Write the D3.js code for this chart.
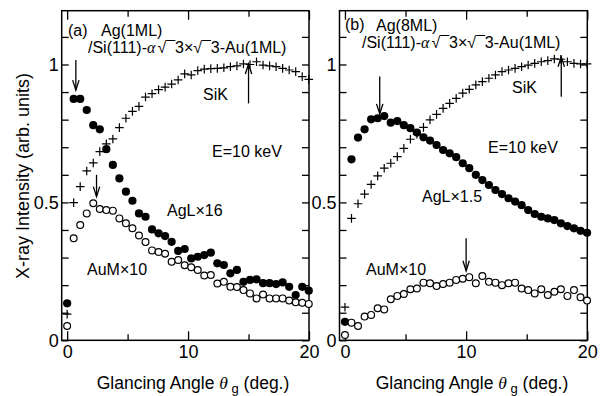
<!DOCTYPE html>
<html>
<head>
<meta charset="utf-8">
<script src="https://cdn.jsdelivr.net/npm/d3@7/dist/d3.min.js"></script>
<style>
  body { margin: 0; background: #fff; }
  svg { display: block; font-family: "Liberation Sans", Arial, sans-serif; }
</style>
</head>
<body>
<div id="chart"></div>
<script>
// glancing angles (deg.) shared by every series
const angles = [0, 0.54, 1.08, 1.62, 2.16, 2.7, 3.24, 3.78, 4.32, 4.86, 5.4, 5.94, 6.48, 7.02, 7.56,
  8.1, 8.64, 9.18, 9.72, 10.26, 10.8, 11.34, 11.88, 12.42, 12.96, 13.5, 14.04, 14.58, 15.12, 15.66,
  16.2, 16.74, 17.28, 17.82, 18.36, 18.9, 19.44, 19.98];

// (a) Ag(1ML)
const sikA = [0.095, 0.499, 0.557, 0.614, 0.643, 0.684, 0.712, 0.73, 0.771, 0.805, 0.83, 0.848, 0.882,
  0.894, 0.909, 0.918, 0.929, 0.944, 0.966, 0.962, 0.978, 0.983, 0.985, 0.986, 0.988, 0.992, 0.995,
  1.002, 1.0, 1.01, 0.998, 0.995, 0.992, 0.986, 0.98, 0.974, 0.956, 0.946];
const aglA = [0.134, 0.875, 0.875, 0.835, 0.78, 0.765, 0.693, 0.636, 0.587, 0.539, 0.506, 0.46, 0.448,
  0.402, 0.388, 0.378, 0.357, 0.324, 0.331, 0.297, 0.303, 0.309, 0.318, 0.279, 0.273, 0.243, 0.255,
  0.212, 0.219, 0.221, 0.207, 0.207, 0.204, 0.21, 0.194, 0.164, 0.194, 0.18];
const aumA = [0.052, 0.37, 0.418, 0.46, 0.497, 0.476, 0.472, 0.47, 0.442, 0.424, 0.406, 0.38, 0.356,
  0.326, 0.32, 0.314, 0.285, 0.291, 0.272, 0.265, 0.255, 0.235, 0.237, 0.206, 0.212, 0.194, 0.193,
  0.182, 0.17, 0.152, 0.166, 0.152, 0.152, 0.152, 0.144, 0.138, 0.136, 0.132];

// (b) Ag(8ML)
const sikB = [0.12, 0.442, 0.495, 0.53, 0.565, 0.596, 0.624, 0.642, 0.666, 0.696, 0.729, 0.747, 0.772,
  0.799, 0.819, 0.841, 0.859, 0.877, 0.896, 0.91, 0.926, 0.938, 0.95, 0.962, 0.974, 0.98, 0.986,
  0.992, 0.998, 1.004, 1.01, 1.014, 1.02, 1.019, 1.01, 1.004, 1.002, 1.002];
const aglB = [0.067, 0.656, 0.735, 0.765, 0.801, 0.805, 0.813, 0.789, 0.795, 0.78, 0.769, 0.753, 0.736,
  0.724, 0.708, 0.69, 0.678, 0.664, 0.642, 0.624, 0.6, 0.581, 0.563, 0.545, 0.53, 0.515, 0.503,
  0.49, 0.472, 0.458, 0.448, 0.442, 0.436, 0.424, 0.414, 0.406, 0.397, 0.39];
const aumB = [0.019, 0.064, 0.052, 0.086, 0.092, 0.116, 0.112, 0.149, 0.161, 0.168, 0.185, 0.188, 0.209,
  0.207, 0.197, 0.204, 0.209, 0.219, 0.223, 0.229, 0.207, 0.233, 0.212, 0.209, 0.2, 0.207, 0.209,
  0.188, 0.182, 0.17, 0.185, 0.164, 0.176, 0.185, 0.161, 0.182, 0.156, 0.144];

const xMajor = [0, 10, 20];
const xMinor = [5, 15];
const yMajor = [0, 0.5, 1];
const yMinor = [0.1, 0.2, 0.3, 0.4, 0.6, 0.7, 0.8, 0.9, 1.1];

const panels = [
  {
    left: 61.7, right: 309, sik: sikA, agl: aglA, aum: aumA,
    tag: '(a)', tagPos: [68, 36], film: 'Ag(1ML)', filmPos: [101, 36], subPos: [88, 53],
    arrows: [{x: 0.72, from: 1.016, to: 0.907}, {x: 2.43, from: 0.6, to: 0.521}, {x: 15, from: 0.859, to: 1.002}],
    labels: [
      {t: 'SiK', x: 203, y: 100}, {t: 'E=10 keV', x: 212, y: 157},
      {t: 'AgL×16', x: 167, y: 216}, {t: 'AuM×10', x: 87, y: 275}
    ],
    titleX: 193
  },
  {
    left: 339.5, right: 587.3, sik: sikB, agl: aglB, aum: aumB,
    tag: '(b)', tagPos: [345, 30], film: 'Ag(8ML)', filmPos: [376, 31], subPos: [362, 48],
    arrows: [{x: 2.87, from: 0.956, to: 0.821}, {x: 17.85, from: 0.883, to: 1.028}, {x: 10, from: 0.37, to: 0.252}],
    labels: [
      {t: 'SiK', x: 512, y: 93}, {t: 'E=10 keV', x: 488, y: 153},
      {t: 'AgL×1.5', x: 422, y: 202}, {t: 'AuM×10', x: 366, y: 275}
    ],
    titleX: 472
  }
];

const svg = d3.select('#chart').append('svg')
  .attr('width', 600)
  .attr('height', 396);

const y = d3.scaleLinear().domain([0, 1.195]).range([340.3, 10.7]);

// style axis selections: hide domain, set tick strokes and fonts
function styleAxis(sel, fontSize) {
  sel.select('.domain').remove();
  sel.selectAll('.tick line').attr('stroke', '#000').attr('stroke-width', 1.3);
  sel.selectAll('.tick text')
    .attr('fill', '#000')
    .style('font-family', '"Liberation Sans", Arial, sans-serif')
    .style('font-size', fontSize + 'px');
}

panels.forEach(p => {
  const x = d3.scaleLinear().domain([-0.45, 20]).range([p.left, p.right]);
  const g = svg.append('g');

  // ticks, all pointing inward
  g.append('g').attr('transform', `translate(0,${y(0)})`)
    .call(d3.axisBottom(x).tickValues(xMajor).tickSizeInner(-9).tickSizeOuter(0).tickPadding(5).tickFormat(d => String(d)))
    .call(s => styleAxis(s, 18));
  g.append('g').attr('transform', `translate(0,${y(0)})`)
    .call(d3.axisBottom(x).tickValues(xMinor).tickSizeInner(-6).tickSizeOuter(0).tickFormat(''))
    .call(s => styleAxis(s, 18));
  g.append('g').attr('transform', `translate(0,${y(1.195)})`)
    .call(d3.axisTop(x).tickValues(xMajor).tickSizeInner(-9).tickSizeOuter(0).tickFormat(''))
    .call(s => styleAxis(s, 18));
  g.append('g').attr('transform', `translate(0,${y(1.195)})`)
    .call(d3.axisTop(x).tickValues(xMinor).tickSizeInner(-6).tickSizeOuter(0).tickFormat(''))
    .call(s => styleAxis(s, 18));

  g.append('g').attr('transform', `translate(${p.left},0)`)
    .call(d3.axisLeft(y).tickValues(yMajor).tickSizeInner(-7).tickSizeOuter(0).tickPadding(3).tickFormat(d => String(d)))
    .call(s => styleAxis(s, 18));
  g.append('g').attr('transform', `translate(${p.left},0)`)
    .call(d3.axisLeft(y).tickValues(yMinor).tickSizeInner(-7).tickSizeOuter(0).tickFormat(''))
    .call(s => styleAxis(s, 18));
  g.append('g').attr('transform', `translate(${p.right},0)`)
    .call(d3.axisRight(y).tickValues(yMajor.concat(yMinor)).tickSizeInner(-7).tickSizeOuter(0).tickFormat(''))
    .call(s => styleAxis(s, 18));

  // frame
  g.append('rect')
    .attr('x', p.left).attr('y', y(1.195))
    .attr('width', p.right - p.left).attr('height', y(0) - y(1.195))
    .attr('fill', 'none').attr('stroke', '#000').attr('stroke-width', 1.5);

  // SiK: plus marks
  g.selectAll('path.sik')
    .data(angles.map((a, i) => [a, p.sik[i]]))
    .join('path')
    .attr('class', 'sik')
    .attr('d', 'M-4.3,0H4.3M0,-4.3V4.3')
    .attr('transform', d => `translate(${x(d[0])},${y(d[1])})`)
    .attr('stroke', '#000').attr('stroke-width', 1.2).attr('fill', 'none');

  // AgL: filled circles
  g.selectAll('circle.agl')
    .data(angles.map((a, i) => [a, p.agl[i]]))
    .join('circle')
    .attr('class', 'agl')
    .attr('cx', d => x(d[0])).attr('cy', d => y(d[1]))
    .attr('r', 4.1).attr('fill', '#000');

  // AuM: open circles
  g.selectAll('circle.aum')
    .data(angles.map((a, i) => [a, p.aum[i]]))
    .join('circle')
    .attr('class', 'aum')
    .attr('cx', d => x(d[0])).attr('cy', d => y(d[1]))
    .attr('r', 3.4).attr('fill', '#fff').attr('stroke', '#000').attr('stroke-width', 1.2);

  // arrows
  p.arrows.forEach(a => {
    const ax = x(a.x), y1 = y(a.from), y2 = y(a.to);
    const dir = y2 > y1 ? -1 : 1;
    g.append('line')
      .attr('x1', ax).attr('x2', ax).attr('y1', y1).attr('y2', y2)
      .attr('stroke', '#000').attr('stroke-width', 1.3);
    g.append('path')
      .attr('d', `M${ax - 3.2},${y2 + dir * 10}L${ax},${y2}L${ax + 3.2},${y2 + dir * 10}`)
      .attr('fill', 'none').attr('stroke', '#000').attr('stroke-width', 1.3);
  });

  // header text
  g.append('text').attr('x', p.tagPos[0]).attr('y', p.tagPos[1])
    .style('font-size', '16px').text(p.tag);
  g.append('text').attr('x', p.filmPos[0]).attr('y', p.filmPos[1])
    .style('font-size', '16px').text(p.film);
  const sub = g.append('text').attr('x', p.subPos[0]).attr('y', p.subPos[1])
    .style('font-size', '16px');
  sub.append('tspan').text('/Si(111)-');
  sub.append('tspan').style('font-family', '"Liberation Serif", serif').style('font-style', 'italic').text('α');
  sub.append('tspan').attr('dx', 2).text('√¯3×√¯3-Au(1ML)');

  p.labels.forEach(l => {
    g.append('text').attr('x', l.x).attr('y', l.y).style('font-size', '16px').text(l.t);
  });

  // x axis title
  const xt = g.append('text').attr('x', p.titleX).attr('y', 389)
    .attr('text-anchor', 'middle').style('font-size', '17.5px');
  xt.append('tspan').text('Glancing Angle ');
  xt.append('tspan').style('font-family', '"Liberation Serif", serif').style('font-style', 'italic').text('θ');
  xt.append('tspan').attr('dy', 4).style('font-size', '13px').text(' g');
  xt.append('tspan').attr('dy', -4).text(' (deg.)');
});

// y axis title
svg.append('text')
  .attr('transform', 'translate(28.5,176) rotate(-90)')
  .attr('text-anchor', 'middle')
  .style('font-size', '18px')
  .text('X-ray Intensity (arb. units)');
</script>
</body>
</html>
